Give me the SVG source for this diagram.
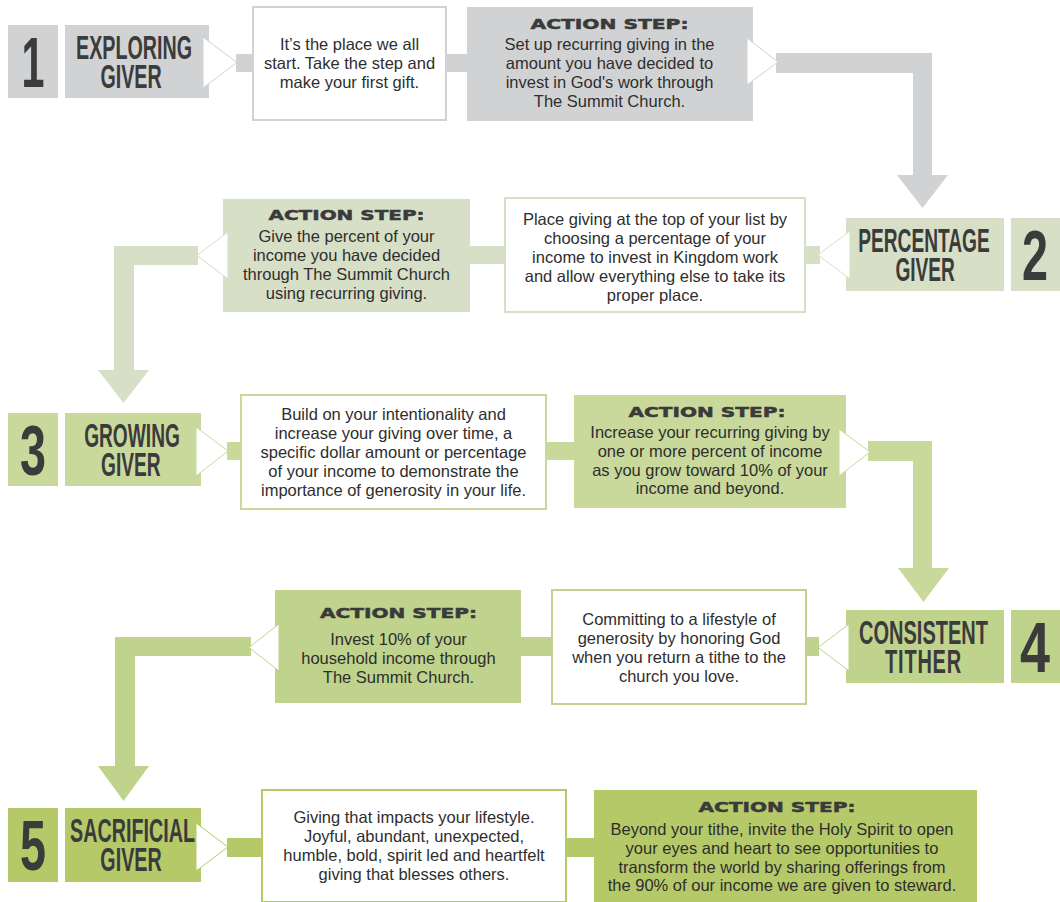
<svg xmlns="http://www.w3.org/2000/svg" width="1060" height="902" viewBox="0 0 1060 902">
<style>
.num{font-family:"Liberation Sans",Arial,sans-serif;font-weight:bold;font-size:70px;fill:#3b3b3b;text-anchor:middle}
.ttl{font-family:"Liberation Sans",Arial,sans-serif;font-weight:bold;font-size:33px;fill:#3b3b3b;text-anchor:middle}
.body{font-family:"Liberation Sans",Arial,sans-serif;font-size:16.5px;fill:#2e2e2e;text-anchor:middle}
.hd{font-family:"DejaVu Sans",sans-serif;font-weight:bold;font-size:14.5px;fill:#3a3a3a;stroke:#3a3a3a;stroke-width:0.5;text-anchor:middle}
.wb{fill:#fff;stroke-width:2}
.c1{fill:#d1d2d4}.s1{stroke:#d1d2d4}
.c2{fill:#d7dfc6}.s2{stroke:#d7dfc6}
.c3{fill:#c9d99c}.s3{stroke:#c9d99c}
.c4{fill:#bfd38c}.s4{stroke:#bfd38c}
.c5{fill:#b5c969}.s5{stroke:#b5c969}
.chev{fill:#fff;stroke-width:1}
</style>

<!-- Row 1 -->
<g id="n1-num"><rect class="c1" x="8" y="25" width="50" height="73"/><text class="num" transform="translate(33,87) scale(0.59,1)">1</text></g>
<g id="n1-title"><rect class="c1" x="65" y="25" width="144" height="73"/>
<text class="ttl" transform="translate(134,0) scale(0.597,1)"><tspan x="0" y="59">EXPLORING</tspan><tspan x="-5" y="88">GIVER</tspan></text></g>
<g id="n1-desc"><rect class="wb s1" x="253" y="7" width="193" height="113"/>
<text class="body" x="349.5" y="50">It’s the place we all</text>
<text class="body" x="349.5" y="69">start. Take the step and</text>
<text class="body" x="349.5" y="88">make your first gift.</text></g>
<g id="n1-action"><rect class="c1" x="467" y="7" width="286" height="114"/>
<text class="hd" x="609.5" y="29" textLength="158" lengthAdjust="spacingAndGlyphs">ACTION STEP:</text>
<text class="body" x="609.5" y="50">Set up recurring giving in the</text>
<text class="body" x="609.5" y="69">amount you have decided to</text>
<text class="body" x="609.5" y="88">invest in God's work through</text>
<text class="body" x="609.5" y="107">The Summit Church.</text></g>

<!-- Row 2 -->
<g id="n2-num"><rect class="c2" x="1011" y="218" width="49" height="73"/><text class="num" transform="translate(1035,280) scale(0.668,1)">2</text></g>
<g id="n2-title"><rect class="c2" x="846" y="218" width="158" height="73"/>
<text class="ttl" transform="translate(924,0) scale(0.58,1)"><tspan x="0" y="252">PERCENTAGE</tspan><tspan x="2" y="281">GIVER</tspan></text></g>
<g id="n2-desc"><rect class="wb s2" x="505" y="198" width="300" height="114"/>
<text class="body" x="655" y="225">Place giving at the top of your list by</text>
<text class="body" x="655" y="244">choosing a percentage of your</text>
<text class="body" x="655" y="263">income to invest in Kingdom work</text>
<text class="body" x="655" y="282">and allow everything else to take its</text>
<text class="body" x="655" y="301">proper place.</text></g>
<g id="n2-action"><rect class="c2" x="223" y="199" width="247" height="113"/>
<text class="hd" x="346.5" y="220" textLength="156" lengthAdjust="spacingAndGlyphs">ACTION STEP:</text>
<text class="body" x="346.5" y="242">Give the percent of your</text>
<text class="body" x="346.5" y="261">income you have decided</text>
<text class="body" x="346.5" y="280">through The Summit Church</text>
<text class="body" x="346.5" y="299">using recurring giving.</text></g>

<!-- Row 3 -->
<g id="n3-num"><rect class="c3" x="8" y="413" width="50" height="73"/><text class="num" transform="translate(33,475) scale(0.668,1)">3</text></g>
<g id="n3-title"><rect class="c3" x="65" y="413" width="136" height="73"/>
<text class="ttl" transform="translate(132,0) scale(0.58,1)"><tspan x="0" y="447">GROWING</tspan><tspan x="-2" y="476">GIVER</tspan></text></g>
<g id="n3-desc"><rect class="wb s3" x="241" y="395" width="305" height="114"/>
<text class="body" x="393.5" y="420">Build on your intentionality and</text>
<text class="body" x="393.5" y="439">increase your giving over time, a</text>
<text class="body" x="393.5" y="458">specific dollar amount or percentage</text>
<text class="body" x="393.5" y="477">of your income to demonstrate the</text>
<text class="body" x="393.5" y="496">importance of generosity in your life.</text></g>
<g id="n3-action"><rect class="c3" x="574" y="395" width="272" height="113"/>
<text class="hd" x="707" y="417" textLength="157" lengthAdjust="spacingAndGlyphs">ACTION STEP:</text>
<text class="body" x="710" y="438">Increase your recurring giving by</text>
<text class="body" x="710" y="457">one or more percent of income</text>
<text class="body" x="710" y="476">as you grow toward 10% of your</text>
<text class="body" x="710" y="494">income and beyond.</text></g>

<!-- Row 4 -->
<g id="n4-num"><rect class="c4" x="1011" y="610" width="49" height="73"/><text class="num" transform="translate(1035,672) scale(0.77,1)">4</text></g>
<g id="n4-title"><rect class="c4" x="846" y="610" width="158" height="73"/>
<text class="ttl" transform="translate(923.5,0) scale(0.606,1)"><tspan x="0" y="644">CONSISTENT</tspan><tspan x="0" y="673" letter-spacing="1.3">TITHER</tspan></text></g>
<g id="n4-desc"><rect class="wb s4" x="552" y="590" width="254" height="114"/>
<text class="body" x="679" y="625">Committing to a lifestyle of</text>
<text class="body" x="679" y="644">generosity by honoring God</text>
<text class="body" x="679" y="663">when you return a tithe to the</text>
<text class="body" x="679" y="682">church you love.</text></g>
<g id="n4-action"><rect class="c4" x="275" y="590" width="246" height="113"/>
<text class="hd" x="398.5" y="618" textLength="157" lengthAdjust="spacingAndGlyphs">ACTION STEP:</text>
<text class="body" x="398.5" y="645">Invest 10% of your</text>
<text class="body" x="398.5" y="664">household income through</text>
<text class="body" x="398.5" y="683">The Summit Church.</text></g>

<!-- Row 5 -->
<g id="n5-num"><rect class="c5" x="8" y="808" width="50" height="74"/><text class="num" transform="translate(33,870) scale(0.668,1)">5</text></g>
<g id="n5-title"><rect class="c5" x="65" y="808" width="136" height="74"/>
<text class="ttl" transform="translate(132.5,0) scale(0.598,1)"><tspan x="0" y="842">SACRIFICIAL</tspan><tspan x="-2.5" y="871">GIVER</tspan></text></g>
<g id="n5-desc"><rect class="wb s5" x="262" y="790" width="304" height="112"/>
<text class="body" x="414" y="823">Giving that impacts your lifestyle.</text>
<text class="body" x="414" y="842">Joyful, abundant, unexpected,</text>
<text class="body" x="414" y="861">humble, bold, spirit led and heartfelt</text>
<text class="body" x="414" y="880">giving that blesses others.</text></g>
<g id="n5-action"><rect class="c5" x="594" y="790" width="383" height="112"/>
<text class="hd" x="777" y="812" textLength="157" lengthAdjust="spacingAndGlyphs">ACTION STEP:</text>
<text class="body" x="782" y="835">Beyond your tithe, invite the Holy Spirit to open</text>
<text class="body" x="782" y="854">your eyes and heart to see opportunities to</text>
<text class="body" x="782" y="873">transform the world by sharing offerings from</text>
<text class="body" x="782" y="891">the 90% of our income we are given to steward.</text></g>

<!-- Connectors -->
<g id="connectors">
<!-- row 1 -->
<rect class="c1" x="236" y="54" width="17" height="18"/>
<rect class="c1" x="446" y="54" width="21" height="18"/>
<path class="c1" d="M776 53 H932 V175 H948 L922.5 208 L897 175 H913 V73 H776 Z"/>
<polygon class="chev s1" points="203,37 237,62.5 203,88"/>
<polygon class="chev s1" points="747,38 778,62 747,85"/>
<!-- row 2 -->
<rect class="c2" x="805" y="246" width="15" height="18"/>
<rect class="c2" x="470" y="246" width="35" height="18"/>
<path class="c2" d="M198 246 H114 V370 H98 L123.5 403 L149 370 H134 V265 H198 Z"/>
<polygon class="chev s2" points="850,231 818,255 850,279"/>
<polygon class="chev s2" points="228,232 197,255.5 228,279"/>
<!-- row 3 -->
<rect class="c3" x="227" y="442" width="14" height="18"/>
<rect class="c3" x="546" y="442" width="28" height="18"/>
<path class="c3" d="M868 441 H932 V568 H949 L923.5 602 L898 568 H913 V461 H868 Z"/>
<polygon class="chev s3" points="196,427 228,451 196,476"/>
<polygon class="chev s3" points="839,429 870,452 839,476"/>
<!-- row 4 -->
<rect class="c4" x="806" y="637" width="13" height="19"/>
<rect class="c4" x="521" y="637" width="31" height="19"/>
<path class="c4" d="M251 637 H115 V766 H98 L123.5 801 L149 766 H135 V656 H251 Z"/>
<polygon class="chev s4" points="849,624 818,647.5 849,671"/>
<polygon class="chev s4" points="279,624 249,647.5 279,671"/>
<!-- row 5 -->
<rect class="c5" x="227" y="838" width="35" height="19"/>
<rect class="c5" x="566" y="838" width="28" height="19"/>
<polygon class="chev s5" points="196,823 228,847 196,871"/>
</g>
</svg>
